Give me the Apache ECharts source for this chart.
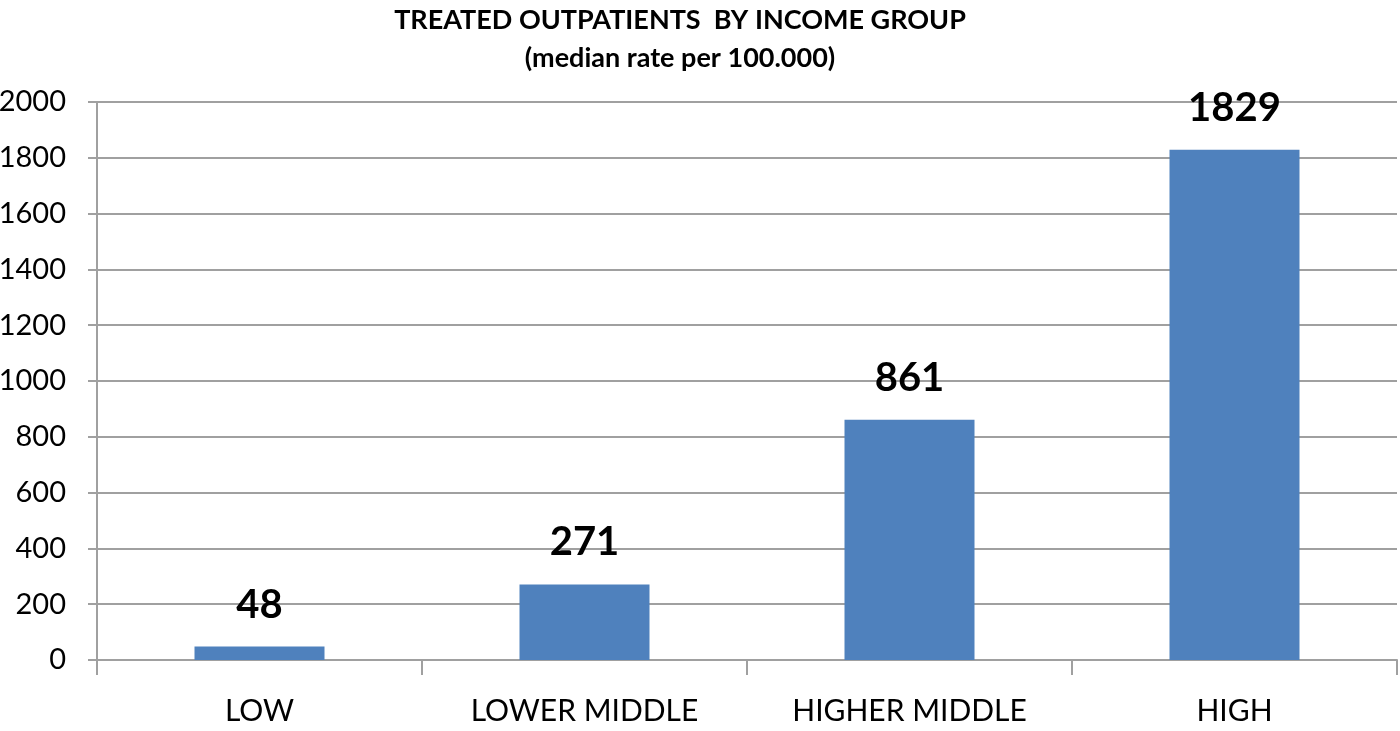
<!DOCTYPE html>
<html><head><meta charset="utf-8">
<script src="https://cdn.jsdelivr.net/npm/echarts@6/dist/echarts.min.js"></script>
<style>html,body{margin:0;padding:0;background:#fff}#c{width:1400px;height:731px}</style>
</head><body><div id="c"></div>
<script>
const categories = ['LOW', 'LOWER MIDDLE', 'HIGHER MIDDLE', 'HIGH'];
const values = [48, 271, 861, 1829];
const titleLines = ['TREATED OUTPATIENTS  BY INCOME GROUP', '(median rate per 100.000)'];
const font = 'Lato, "Open Sans", sans-serif';
const chart = echarts.init(document.getElementById('c'));
chart.setOption({
  animation: false,
  title: {
    text: titleLines.join('\n'),
    left: 675, top: -4, textAlign: 'center',
    textStyle: {fontFamily: font, fontWeight: 'bold', fontSize: 27, lineHeight: 38, color: '#000'}
  },
  grid: {left: 97, right: 3, top: 102, bottom: 71, containLabel: false, outerBoundsMode: 'none'},
  xAxis: {
    type: 'category', data: categories,
    axisLine: {lineStyle: {color: '#a0a0a0', width: 2}},
    axisTick: {show: true, length: 15, lineStyle: {color: '#a0a0a0', width: 2}},
    axisLabel: {fontFamily: font, fontSize: 30, color: '#000', margin: 36}
  },
  yAxis: {
    type: 'value', min: 0, max: 2000, interval: 200,
    axisLine: {show: true, lineStyle: {color: '#a0a0a0', width: 2}},
    axisTick: {show: true, length: 9, lineStyle: {color: '#a0a0a0', width: 2}},
    splitLine: {lineStyle: {color: '#a0a0a0', width: 2}},
    axisLabel: {fontFamily: font, fontSize: 29, color: '#000', margin: 31, formatter: v => String(v)}
  },
  series: [{
    type: 'bar', data: values, barWidth: '40%',
    itemStyle: {color: '#4F81BD'},
    label: {show: true, position: 'top', distance: 22, fontFamily: font, fontWeight: 'bold', fontSize: 40, color: '#000'}
  }]
});
</script></body></html>
